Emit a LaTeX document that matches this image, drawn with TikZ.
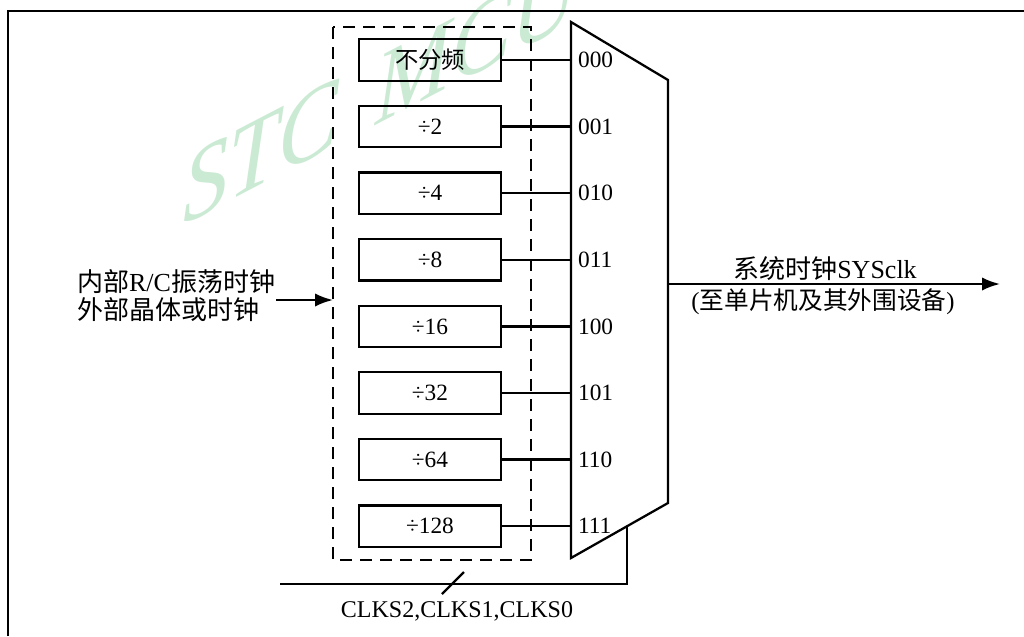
\documentclass[tikz,border=0pt]{standalone}
\usepackage{fontspec}
\setmainfont{Liberation Serif}
\newfontfamily\cjk{Noto Sans CJK SC}
\usepackage{xcolor}
\usepackage{tikz}
\usetikzlibrary{arrows.meta,calc}
\definecolor{wmgreen}{RGB}{203,234,212}

\begin{document}
\begin{tikzpicture}[>=Latex,x=0.75pt,y=-0.75pt,line width=1.7pt,
    divbox/.style={draw,minimum width=106.5pt,minimum height=31pt,inner sep=0pt,font=\fontsize{17.5}{20}\selectfont},
    port/.style={anchor=west,inner sep=0pt,font=\fontsize{17.5}{20}\selectfont},
    txt/.style={inner sep=0pt,font=\fontsize{18.5}{21}\selectfont}]
      \useasboundingbox (0,0) rectangle (1024,636);
      % watermark
      \node[anchor=base west,yslant=0.52,yscale=1.12,inner sep=0pt,text=wmgreen,font=\fontsize{68}{68}\selectfont\itshape] (wm) at (182,226) {STC\hspace{0.4em}MCU};
      % frame
      \draw[line width=2pt] (8,636) -- (8,11) -- (1024,11);
      % divider group
      \draw[line width=1.3pt,dash pattern=on 9pt off 6pt] (333,27) rectangle (531,560);
      \foreach \i/\t in {0/{\cjk 不分频},1/÷2,2/÷4,3/÷8,4/÷16,5/÷32,6/÷64,7/÷128}
        \node[divbox] (div\i) at (430,{60+66.6*\i}) {\t};
      % multiplexer
      \draw (571,22) coordinate (mtl) -- (668,80) coordinate (mtr) -- (668,503) coordinate (mbr) -- (571,558) coordinate (mbl) -- cycle;
      \foreach \i/\s in {0/000,1/001,2/010,3/011,4/100,5/101,6/110,7/111} {
        \coordinate (in\i) at (571,{60+66.6*\i});
        \node[port] (p\i) at (577,{60+66.6*\i}) {\s};
        \draw (div\i.east) -- (in\i);
      }
      % clock input
      \node[txt,anchor=west,align=left,font=\fontsize{19.5}{21}\selectfont] (src) at (76,296) {{\cjk 内部}R/C{\cjk 振荡时钟}\\{\cjk 外部晶体或时钟}};
      \coordinate (srcs) at (276,300);
      \coordinate (grp) at (333,300);
      \draw[->,>={Latex[length=13.5pt,width=10pt]}] (srcs) -- (grp);
      % clock output
      \coordinate (out) at (668,284);
      \coordinate (sys) at (1000,284);
      \draw[->,>={Latex[length=13.5pt,width=10pt]}] (out) -- (sys);
      \node[txt,font=\fontsize{19.5}{21}\selectfont] (sysl) at (825,269) {{\cjk 系统时钟}SYSclk};
      \node[txt] (sysd) at (823,302) {({\cjk 至单片机及其外围设备})};
      % select lines
      \coordinate (sel) at ($(mbl)!0.577!(mbr)$);
      \coordinate (sels) at (280,584);
      \draw (sels) -| (sel);
      \draw (442,594) coordinate (ta) -- (464,572) coordinate (tb);
      \node[txt,font=\fontsize{18}{21}\selectfont] (clks) at (457,611) {CLKS2,CLKS1,CLKS0};
\end{tikzpicture}
\end{document}
